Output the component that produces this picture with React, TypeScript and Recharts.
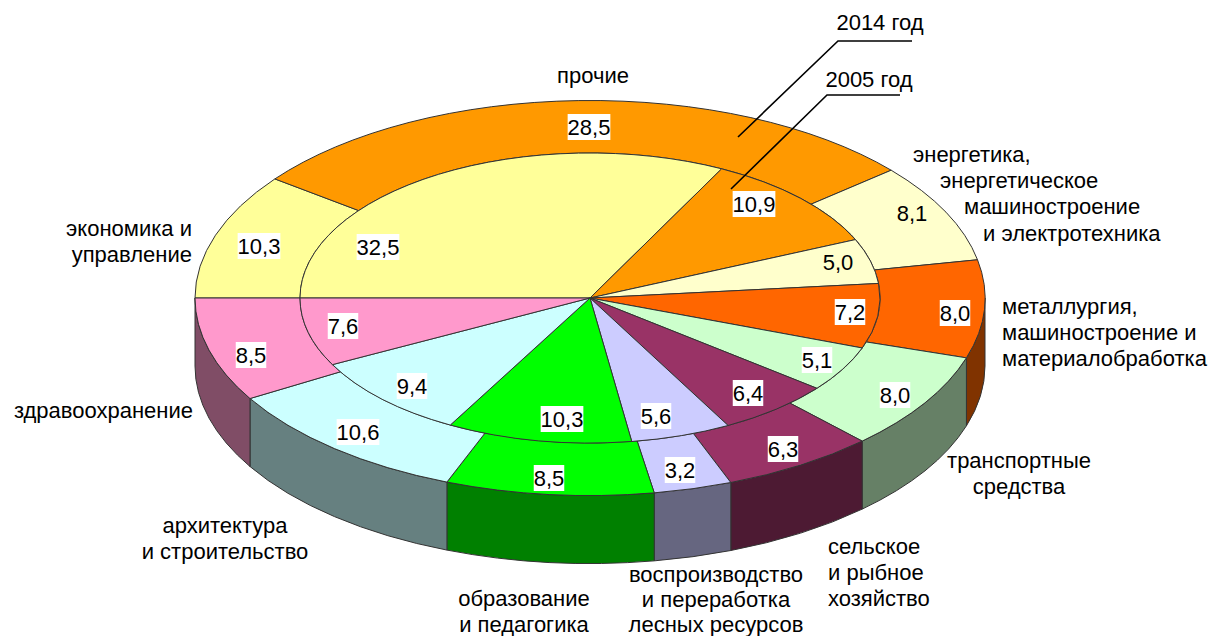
import React from 'react';
import { PieChart, Pie } from 'recharts';

const categories = ['экономика и управление', 'прочие', 'энергетика', 'металлургия', 'транспортные средства', 'сельское и рыбное хозяйство', 'воспроизводство', 'образование и педагогика', 'архитектура и строительство', 'здравоохранение'];
const values2014 = [10.3, 28.5, 8.1, 8.0, 8.0, 6.3, 3.2, 8.5, 10.6, 8.5];
const values2005 = [32.5, 10.9, 5.0, 7.2, 5.1, 6.4, 5.6, 10.3, 9.4, 7.6];
const topColors = ['#FFFF99', '#FF9900', '#FFFFCC', '#FF6600', '#CCFFCC', '#993366', '#CCCCFF', '#00FF00', '#CCFFFF', '#FF99CC'];
const sideColors = ['#808050', '#804D00', '#808066', '#803300', '#668066', '#4D1A33', '#666680', '#008000', '#668080', '#804D66'];
const unboxedLabels = [2];

const labelPos2014 = [[259, 246], [589, 127], [912, 213], [955, 313], [895, 395], [783, 449], [680, 470], [549, 478], [358, 432], [251, 355]];
const labelPos2005 = [[378, 247], [754, 204], [838, 262], [850, 312], [817, 360], [748, 393], [656, 416], [562, 419], [412, 386], [343, 326]];

type T = { lines: string[]; x: number; y: number; a: 'start' | 'middle' | 'end'; xs?: number[]; step?: number };
const captions: T[] = [
  { lines: ['прочие'], x: 593, y: 75.5, a: 'middle' },
  { lines: ['2014 год'], x: 880, y: 22.5, a: 'middle' },
  { lines: ['2005 год'], x: 869, y: 79.5, a: 'middle' },
  { lines: ['энергетика,', 'энергетическое', 'машиностроение', 'и электротехника'], x: 0, y: 154.5, a: 'start', xs: [913, 940, 964, 983] },
  { lines: ['металлургия,', 'машиностроение и', 'материалобработка'], x: 1002, y: 306.5, a: 'start' },
  { lines: ['транспортные', 'средства'], x: 1019, y: 460.5, a: 'middle' },
  { lines: ['сельское', 'и рыбное', 'хозяйство'], x: 828, y: 546.5, a: 'start' },
  { lines: ['воспроизводство', 'и переработка', 'лесных ресурсов'], x: 716, y: 574, a: 'middle', step: 25 },
  { lines: ['образование', 'и педагогика'], x: 524, y: 598.5, a: 'middle', step: 25.5 },
  { lines: ['архитектура', 'и строительство'], x: 225, y: 525.5, a: 'middle' },
  { lines: ['здравоохранение'], x: 193, y: 410.5, a: 'end' },
  { lines: ['экономика и', 'управление'], x: 192, y: 228.5, a: 'end' },
];
const leaders = ['738,137 838,41 912,41', '731,189 827,95 900,95'];

const FONT = '"Liberation Sans", Arial, sans-serif';
const FS = 22;
const K = 0.5;
const DEPTH = 68;
const EDGE = '#333333';
const RAD = Math.PI / 180;
const CX = 590;
const CY = 298;

const pt = (cx: number, cy: number, r: number, deg: number) =>
  [cx + r * Math.cos(deg * RAD), cy - K * r * Math.sin(deg * RAD)];

const TopSector = (p: any) => {
  const { cx, cy, innerRadius: ri, outerRadius: ro, startAngle: s, endAngle: e, fill } = p;
  const large = Math.abs(s - e) > 180 ? 1 : 0;
  const [x1, y1] = pt(cx, cy, ro, s);
  const [x2, y2] = pt(cx, cy, ro, e);
  let d = `M${x1},${y1}A${ro},${ro * K} 0 ${large} 1 ${x2},${y2}`;
  if (ri > 0) {
    const [x3, y3] = pt(cx, cy, ri, e);
    const [x4, y4] = pt(cx, cy, ri, s);
    d += `L${x3},${y3}A${ri},${ri * K} 0 ${large} 0 ${x4},${y4}Z`;
  } else {
    d += `L${cx},${cy}Z`;
  }
  return <path d={d} fill={fill} stroke={EDGE} strokeWidth={1} strokeLinejoin="round" />;
};

const SideSector = (p: any) => {
  const { cx, cy, outerRadius: ro, startAngle: s, endAngle: e, fill } = p;
  const a = Math.min(s, 0);
  const b = Math.max(e, -180);
  if (a <= b) return <g />;
  const [x1, y1] = pt(cx, cy, ro, a);
  const [x2, y2] = pt(cx, cy, ro, b);
  const d = `M${x1},${y1}A${ro},${ro * K} 0 0 1 ${x2},${y2}L${x2},${y2 + DEPTH}A${ro},${ro * K} 0 0 0 ${x1},${y1 + DEPTH}Z`;
  return <path d={d} fill={fill} stroke={EDGE} strokeWidth={1} strokeLinejoin="round" />;
};

const fmt = (v: number) => v.toFixed(1).replace('.', ',');

const makeLabel = (positions: number[][]) => (p: any) => {
  const [x, y] = positions[p.index];
  const txt = fmt(p.value);
  const w = (txt.length - 1) * 12.2 + 6.1;
  return (
    <g key={p.index}>
      {!unboxedLabels.includes(p.index) && <rect x={x - w / 2} y={y - 13} width={w} height={26} fill="#FFFFFF" />}
      <text x={x} y={y} textAnchor="middle" dominantBaseline="central" fontFamily={FONT} fontSize={FS} fill="#000">{txt}</text>
    </g>
  );
};

const build = (vals: number[], colors: string[]) =>
  vals.map((value, i) => ({ name: categories[i], value, fill: colors[i] }));

export default function App() {
  return (
    <div style={{ position: 'absolute', left: 0, top: 0, width: 1208, height: 636, background: '#fff', overflow: 'hidden' }}>
      <PieChart width={1208} height={636} margin={{ top: 0, right: 0, bottom: 0, left: 0 }}>
        <Pie data={build(values2014, sideColors)} dataKey="value" cx={CX} cy={CY} innerRadius={290} outerRadius={395}
          startAngle={180} endAngle={-180} paddingAngle={0} isAnimationActive={false} shape={SideSector} />
        <Pie data={build(values2014, topColors)} dataKey="value" cx={CX} cy={CY} innerRadius={290} outerRadius={395}
          startAngle={180} endAngle={-180} paddingAngle={0} isAnimationActive={false} shape={TopSector}
          label={makeLabel(labelPos2014)} labelLine={false} />
        <Pie data={build(values2005, topColors)} dataKey="value" cx={CX} cy={CY} innerRadius={0} outerRadius={290}
          startAngle={180} endAngle={-180} paddingAngle={0} isAnimationActive={false} shape={TopSector}
          label={makeLabel(labelPos2005)} labelLine={false} />
      </PieChart>
      <svg width={1208} height={636} style={{ position: 'absolute', left: 0, top: 0, pointerEvents: 'none' }}>
        {leaders.map((pts) => (
          <polyline key={pts} points={pts} fill="none" stroke="#000" strokeWidth={1.6} />
        ))}
        {captions.map((c) =>
          c.lines.map((l, i) => (
            <text key={l} x={c.xs ? c.xs[i] : c.x} y={c.y + i * (c.step ?? 26.2)} textAnchor={c.a} dominantBaseline="central" fontFamily={FONT} fontSize={FS} fill="#000">{l}</text>
          )),
        )}
      </svg>
    </div>
  );
}
